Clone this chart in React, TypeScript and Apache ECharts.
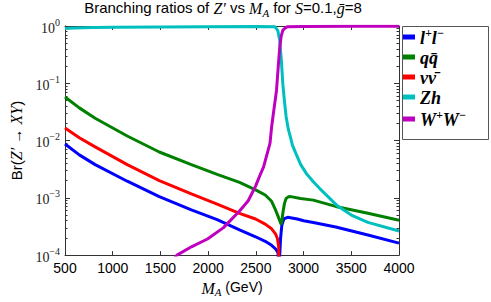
import React, { useEffect, useRef } from "react";
import * as echarts from "echarts";

// ---- Data ----
const LL_M = [500, 650, 816, 1152, 1488, 1824, 2094, 2329, 2497, 2598, 2665, 2706, 2732, 2742, 2750, 2759, 2772, 2793, 2833, 2934, 3001, 3102, 3337, 3674, 4000];
const LL_BR = [8.71e-3, 5.62e-3, 3.8e-3, 1.95e-3, 1.05e-3, 6.17e-4, 4.17e-4, 2.75e-4, 2.09e-4, 1.74e-4, 1.48e-4, 1.29e-4, 1.1e-4, 5.0e-5, 1.0e-4, 1.95e-4, 3.31e-4, 4.27e-4, 4.57e-4, 4.27e-4, 3.98e-4, 3.72e-4, 3.09e-4, 2.24e-4, 1.62e-4];

const QQ_M = [500, 650, 816, 1152, 1488, 1824, 2094, 2329, 2497, 2598, 2665, 2706, 2732, 2759, 2766, 2775, 2786, 2800, 2817, 2840, 2867, 2968, 3102, 3336, 3674, 4000];
const QQ_BR = [5.75e-2, 3.72e-2, 2.45e-2, 1.2e-2, 6.31e-3, 3.8e-3, 2.57e-3, 1.86e-3, 1.38e-3, 1.12e-3, 8.71e-4, 6.17e-4, 4.79e-4, 3.63e-4, 3.47e-4, 4.2e-4, 5.9e-4, 8.0e-4, 9.77e-4, 1.04e-3, 1.05e-3, 9.77e-4, 9.12e-4, 7.08e-4, 5.37e-4, 4.07e-4];

const NN_M = [500, 650, 816, 1152, 1488, 1824, 2094, 2329, 2497, 2598, 2665, 2706, 2726, 2739, 2744];
const NN_BR = [1.66e-2, 1.12e-2, 7.76e-3, 3.8e-3, 2.0e-3, 1.17e-3, 7.76e-4, 5.37e-4, 4.27e-4, 3.47e-4, 2.88e-4, 2.34e-4, 1.95e-4, 1.41e-4, 1.0e-5];

const ZH_M = [500, 600, 800, 1000, 1500, 2000, 2500, 2700, 2730, 2749, 2766, 2783, 2800, 2817, 2840, 2867, 2883, 2918, 2970, 3035, 3102, 3170, 3354, 3500, 3674, 4000];
const ZH_BR = [0.9, 0.92, 0.945, 0.955, 0.965, 0.975, 0.98, 0.975, 0.83, 0.575, 0.27, 9.55e-2, 4.79e-2, 2.63e-2, 1.58e-2, 1.07e-2, 8.32e-3, 6.03e-3, 3.8e-3, 2.57e-3, 1.91e-3, 1.45e-3, 7.24e-4, 5.01e-4, 3.72e-4, 2.63e-4];

const WW_M = [1600, 1673, 1830, 1993, 2161, 2329, 2420, 2497, 2547, 2581, 2615, 2648, 2666, 2690, 2716, 2735, 2749, 2765, 2783, 2810, 2833, 3000, 3500, 4000];
const WW_BR = [7.0e-5, 1.0e-4, 1.41e-4, 1.91e-4, 3.02e-4, 5.9e-4, 8.9e-4, 1.6e-3, 2.57e-3, 3.47e-3, 5.62e-3, 8.91e-3, 1.78e-2, 3.55e-2, 7.41e-2, 0.2, 0.4, 0.66, 0.85, 0.93, 0.975, 0.985, 0.99, 0.99];

const X_TICKS = [500, 1000, 1500, 2000, 2500, 3000, 3500, 4000];
const Y_DECADES = [1e-4, 1e-3, 1e-2, 1e-1, 1];

const SERIES = [
  { key: "ll", m: LL_M, v: LL_BR, color: "#0000ff" },
  { key: "qq", m: QQ_M, v: QQ_BR, color: "#008000" },
  { key: "nn", m: NN_M, v: NN_BR, color: "#ff0000" },
  { key: "zh", m: ZH_M, v: ZH_BR, color: "#00bfbf" },
  { key: "ww", m: WW_M, v: WW_BR, color: "#bf00bf" },
];

const LEGEND_TEXT: Record<string, string> = {
  ll: "{i|l}{s|+}{i|l}{s|\u2212}",
  qq: "{i|qq\u0304}",
  nn: "{i|\u03bd\u03bd\u0304}",
  zh: "{i|Zh}",
  ww: "{i|W}{s|+}{i|W}{s|\u2212}",
};

const SERIF = "Liberation Serif";
const SANS = "Liberation Sans";

const minorTicks: number[] = [];
for (let d = -4; d < 0; d++) {
  for (let k = 2; k <= 9; k++) minorTicks.push(k * Math.pow(10, d));
}

export default function App() {
  const ref = useRef<HTMLDivElement>(null);
  useEffect(() => {
    if (!ref.current) return;
    const chart = echarts.init(ref.current, undefined, { renderer: "svg" });
    const axisColor = "#333";
    const baseY = {
      type: "log" as const,
      logBase: 10,
      min: 1e-4,
      max: 1,
      splitLine: { show: false },
    };
    const yLabelRich = {
      b: { fontFamily: SERIF, fontSize: 14, color: "#222", verticalAlign: "bottom", lineHeight: 18 },
      s: { fontFamily: SERIF, fontSize: 10, color: "#222", verticalAlign: "top", lineHeight: 10 },
    };
    const option: any = {
      animation: false,
      backgroundColor: "#fff",
      grid: { left: 52, top: 26, right: 92, bottom: 38, containLabel: false },
      graphic: [
        {
          type: "text",
          x: 223,
          y: 9,
          style: {
            text: "{n|Branching ratios of }{i|Z\u2032}{n| vs }{i|M}{sub|A}{n| for }{i|S}{n|=0.1,}{i|g\u0304}{n|=8}",
            align: "center",
            verticalAlign: "middle",
            rich: {
              n: { fontFamily: SANS, fontSize: 15, fill: "#000", lineHeight: 18, verticalAlign: "top" },
              i: { fontFamily: SERIF, fontStyle: "italic", fontSize: 16, fill: "#000", lineHeight: 18, verticalAlign: "top" },
              sub: { fontFamily: SERIF, fontStyle: "italic", fontSize: 11, fill: "#000", lineHeight: 10, verticalAlign: "bottom" },
            },
          },
        },
        {
          type: "rect",
          shape: { x: 402.5, y: 26.5, width: 86, height: 113 },
          style: { fill: "none", stroke: "#555", lineWidth: 1 },
          z: 0,
        },
      ],
      legend: {
        orient: "vertical",
        left: 403,
        top: 27,
        padding: 0,
        itemWidth: 12,
        itemHeight: 5,
        itemGap: 2,
        icon: "rect",
        data: SERIES.map((s) => s.key),
        formatter: (name: string) => LEGEND_TEXT[name],
        textStyle: {
          rich: {
            i: { fontFamily: SERIF, fontStyle: "italic", fontWeight: "bold", fontSize: 18, lineHeight: 20, verticalAlign: "bottom", color: "#000" },
            s: { fontFamily: SERIF, fontStyle: "italic", fontWeight: "bold", fontSize: 12, lineHeight: 12, verticalAlign: "top", color: "#000" },
          },
        },
      },
      xAxis: [
        {
          type: "value",
          min: 500,
          max: 4000,
          interval: 500,
          position: "bottom",
          splitLine: { show: false },
          axisLine: { show: true, lineStyle: { color: axisColor, width: 1 } },
          axisTick: { show: true, inside: true, length: 4, lineStyle: { color: axisColor } },
          axisLabel: {
            fontFamily: SANS,
            fontSize: 14,
            color: "#000",
            margin: 6,
            customValues: X_TICKS,
            formatter: (v: number) => String(v),
          },
          name: "{i|M}{sub|A}{n| (GeV)}",
          nameLocation: "middle",
          nameGap: 24,
          nameTextStyle: {
            rich: {
              n: { fontFamily: SANS, fontSize: 14, color: "#000", lineHeight: 17, verticalAlign: "top" },
              i: { fontFamily: SERIF, fontStyle: "italic", fontSize: 16, color: "#000", lineHeight: 17, verticalAlign: "top" },
              sub: { fontFamily: SERIF, fontStyle: "italic", fontSize: 11, color: "#000", lineHeight: 10, verticalAlign: "bottom" },
            },
          },
        },
        {
          type: "value",
          min: 500,
          max: 4000,
          interval: 500,
          position: "top",
          splitLine: { show: false },
          axisLine: { show: true, lineStyle: { color: axisColor, width: 1 } },
          axisTick: { show: true, inside: true, length: 4, lineStyle: { color: axisColor } },
          axisLabel: { show: false },
        },
      ],
      yAxis: [
        {
          ...baseY,
          position: "left",
          axisLine: { show: true, lineStyle: { color: axisColor, width: 1 } },
          axisTick: { show: true, inside: true, length: 5, customValues: Y_DECADES, lineStyle: { color: axisColor } },
          axisLabel: {
            customValues: Y_DECADES,
            margin: 5,
            formatter: (v: number) => {
              const e = Math.round(Math.log10(v));
              return "{b|10}{s|" + (e < 0 ? "\u2212" + -e : String(e)) + "}";
            },
            rich: yLabelRich,
          },
          name: "{n|Br(}{i|Z\u2032}{n| \u2192 }{i|XY}{n|)}",
          nameLocation: "middle",
          nameGap: 41,
          nameRotate: 90,
          nameTextStyle: {
            rich: {
              n: { fontFamily: SANS, fontSize: 15, color: "#000" },
              i: { fontFamily: SERIF, fontStyle: "italic", fontSize: 16, color: "#000" },
            },
          },
        },
        {
          ...baseY,
          position: "left",
          axisLine: { show: false },
          axisTick: { show: true, inside: true, length: 2.5, customValues: minorTicks, lineStyle: { color: axisColor } },
          axisLabel: { show: false },
        },
        {
          ...baseY,
          position: "right",
          axisLine: { show: true, lineStyle: { color: axisColor, width: 1 } },
          axisTick: { show: true, inside: true, length: 5, customValues: Y_DECADES, lineStyle: { color: axisColor } },
          axisLabel: { show: false },
        },
        {
          ...baseY,
          position: "right",
          axisLine: { show: false },
          axisTick: { show: true, inside: true, length: 2.5, customValues: minorTicks, lineStyle: { color: axisColor } },
          axisLabel: { show: false },
        },
      ],
      series: SERIES.map((s) => ({
        name: s.key,
        type: "line",
        xAxisIndex: 0,
        yAxisIndex: 0,
        data: s.m.map((m, i) => [m, s.v[i]]),
        showSymbol: false,
        symbol: "none",
        clip: true,
        color: s.color,
        lineStyle: { color: s.color, width: 3 },
      })),
    };
    chart.setOption(option);
    return () => chart.dispose();
  }, []);
  return (
    <div
      ref={ref}
      style={{ position: "absolute", left: 0, top: 0, width: 491, height: 302, background: "#fff" }}
    />
  );
}
